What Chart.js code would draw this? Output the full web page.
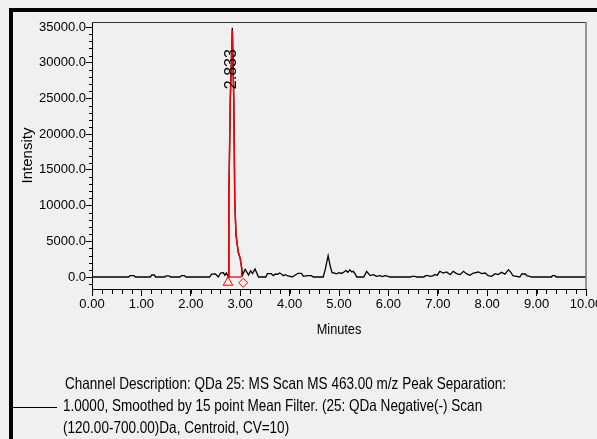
<!DOCTYPE html>
<html>
<head>
<meta charset="utf-8">
<script src="https://cdn.jsdelivr.net/npm/chart.js@4.4.1/dist/chart.umd.min.js"></script>
<style>
  html, body { margin: 0; padding: 0; background: #f0f0f0; }
  canvas { display: block; }
</style>
</head>
<body>
<canvas id="chromChart" width="597" height="439"></canvas>
<script>
// full trace (black)
const times = [
  0.00, 0.74, 0.77, 0.85, 0.88, 1.18, 1.21, 1.26, 1.29, 1.47, 1.50, 1.56, 1.59,
  1.78, 1.81, 1.87, 1.90, 2.38, 2.42, 2.50, 2.53, 2.56, 2.60, 2.66, 2.69, 2.72,
  2.75, 2.76, 2.77, 2.80, 2.84, 2.87, 2.89, 2.915, 2.96, 3.00, 3.03, 3.05, 3.10,
  3.17, 3.21, 3.25, 3.30, 3.37, 3.52, 3.55, 3.63, 3.67, 3.71, 3.76, 3.80, 3.84,
  3.87, 3.92, 3.96, 4.00, 4.05, 4.17, 4.24, 4.28, 4.37, 4.44, 4.48, 4.68, 4.72,
  4.78, 4.82, 4.86, 4.90, 4.95, 5.00, 5.05, 5.10, 5.14, 5.18, 5.22, 5.26, 5.29,
  5.33, 5.36, 5.50, 5.56, 5.63, 5.70, 5.76, 5.83, 5.88, 5.93, 5.98, 6.03, 6.45,
  6.48, 6.54, 6.57, 6.72, 6.75, 6.80, 6.85, 6.90, 6.94, 6.99, 7.04, 7.11, 7.18,
  7.25, 7.31, 7.38, 7.45, 7.52, 7.58, 7.65, 7.72, 7.82, 7.89, 7.96, 8.02, 8.09,
  8.16, 8.22, 8.29, 8.36, 8.43, 8.48, 8.52, 8.59, 8.66, 8.70, 8.77, 8.80, 8.86,
  8.90, 9.30, 9.32, 9.37, 9.40, 10.00
];
const intensity = [
  0, 0, 180, 180, 0, 0, 280, 280, 0, 0, 150, 150, 0,
  0, 190, 190, 0, 0, 400, 420, 200, 0, 550, 600, 250, 550,
  200, 0, 11000, 25000, 34900, 24800, 10800, 5900, 3500, 2600, 1260, 300, 1080,
  280, 880, 500, 1120, 0, 0, 460, 460, 180, 420, 380, 560, 400,
  180, 330, 150, 120, 0, 520, 520, 100, 190, 190, 0, 0, 1000,
  2980, 1600, 600, 560, 450, 600, 500, 700, 900, 650, 1000, 700, 800,
  400, 0, 0, 790, 200, 330, 100, 200, 50, 180, 120, 0, 0,
  100, 100, 0, 0, 180, 180, 100, 150, 330, 250, 800, 560, 700,
  330, 800, 470, 330, 800, 470, 230, 560, 700, 470, 560, 180, 90,
  470, 330, 650, 400, 1030, 650, 180, 100, 0, 420, 420, 180, 100,
  0, 0, 180, 180, 0, 0
];

// integrated peak (red)
const peakTimes = [2.76, 2.77, 2.80, 2.84, 2.87, 2.89, 2.915, 2.96, 3.00, 3.03, 3.03];
const peakIntensity = [0, 11000, 25000, 34500, 24800, 10800, 5900, 3500, 2600, 1260, 0];
const baselineTimes = [2.76, 3.03];
const baselineIntensity = [0, 0];
const markerTimes = [2.753, 3.06];
const markerIntensity = [-770, -810];

const peakLabel = '2.833';
const peakLabelTime = 2.835;
const peakLabelIntensity = 29100;

const xTickValues = [0, 1, 2, 3, 4, 5, 6, 7, 8, 9, 10];
const xTickLabels = ['0.00', '1.00', '2.00', '3.00', '4.00', '5.00', '6.00', '7.00', '8.00', '9.00', '10.00'];
const yTickValues = [0, 5000, 10000, 15000, 20000, 25000, 30000, 35000];
const yTickLabels = ['0.0', '5000.0', '10000.0', '15000.0', '20000.0', '25000.0', '30000.0', '35000.0'];

const xTitle = 'Minutes';
const yTitle = 'Intensity';
const channelLines = [
  'Channel Description: QDa 25: MS Scan MS 463.00 m/z Peak Separation:',
  '1.0000, Smoothed by 15 point Mean Filter. (25: QDa Negative(-) Scan',
  '(120.00-700.00)Da, Centroid, CV=10)'
];

function toPoints(xs, ys) {
  return xs.map((x, i) => ({ x: x, y: ys[i] }));
}

// draws text squeezed to a given width (the original font is narrow)
function squeezeText(ctx, text, x, y, sx) {
  ctx.save();
  ctx.translate(x, y);
  ctx.scale(sx, 1);
  ctx.fillText(text, 0, 0);
  ctx.restore();
}

const decorations = {
  id: 'decorations',
  beforeDraw(chart) {
    const ctx = chart.ctx;
    ctx.save();
    ctx.fillStyle = '#f0f0f0';
    ctx.fillRect(0, 0, chart.width, chart.height);
    ctx.restore();
  },
  afterDraw(chart) {
    const ctx = chart.ctx;
    const area = chart.chartArea;
    const xs = chart.scales.x;
    const ys = chart.scales.y;
    ctx.save();

    // frame top and right
    ctx.strokeStyle = '#333';
    ctx.lineWidth = 1;
    ctx.beginPath();
    ctx.moveTo(area.left, area.top + 0.5);
    ctx.lineTo(area.right, area.top + 0.5);
    ctx.stroke();
    ctx.strokeStyle = '#777';
    ctx.lineWidth = 1.5;
    ctx.beginPath();
    ctx.moveTo(area.right, area.top);
    ctx.lineTo(area.right, area.bottom);
    ctx.stroke();

    // minor ticks
    ctx.strokeStyle = '#000';
    ctx.lineWidth = 1;
    ctx.beginPath();
    for (let v = 0.2; v < 10; v += 0.2) {
      const px = Math.round(xs.getPixelForValue(v)) + 0.5;
      ctx.moveTo(px, area.bottom);
      ctx.lineTo(px, area.bottom + 5);
    }
    for (let v = -1000; v <= 35000; v += 1000) {
      if (v % 5000 === 0) continue;
      const py = Math.round(ys.getPixelForValue(v)) + 0.5;
      ctx.moveTo(area.left - 3, py);
      ctx.lineTo(area.left, py);
    }
    ctx.stroke();

    ctx.fillStyle = '#000';

    // axis titles
    ctx.font = '15px "Liberation Sans", Arial, sans-serif';
    ctx.textAlign = 'center';
    ctx.textBaseline = 'alphabetic';
    squeezeText(ctx, xTitle, (area.left + area.right) / 2, 334, 0.85);
    ctx.save();
    ctx.translate(32, (area.top + area.bottom) / 2);
    ctx.rotate(-Math.PI / 2);
    ctx.fillText(yTitle, 0, 0);
    ctx.restore();

    // peak label
    ctx.save();
    ctx.font = '16px "Liberation Sans", Arial, sans-serif';
    ctx.translate(xs.getPixelForValue(peakLabelTime), ys.getPixelForValue(peakLabelIntensity));
    ctx.rotate(-Math.PI / 2);
    ctx.textAlign = 'center';
    ctx.textBaseline = 'middle';
    ctx.fillText(peakLabel, 0, 0);
    ctx.restore();

    // channel description
    ctx.font = '16.5px "Liberation Sans", Arial, sans-serif';
    ctx.textAlign = 'left';
    const sx = 441 / ctx.measureText(channelLines[0]).width;
    squeezeText(ctx, channelLines[0], 65, 389, sx);
    squeezeText(ctx, channelLines[1], 63, 411, sx);
    squeezeText(ctx, channelLines[2], 63, 433, sx);
    ctx.beginPath();
    ctx.moveTo(10, 407.5);
    ctx.lineTo(57, 407.5);
    ctx.stroke();

    // outer black border
    ctx.fillRect(9, 8, chart.width - 9, 4);
    ctx.fillRect(9, 8, 4, chart.height - 8);
    ctx.restore();
  }
};

const tickFont = { family: '"Liberation Sans", Arial, sans-serif', size: 13 };

new Chart(document.getElementById('chromChart'), {
  type: 'line',
  data: {
    datasets: [
      {
        data: toPoints(markerTimes, markerIntensity),
        showLine: false,
        pointStyle: ['triangle', 'rectRot'],
        pointRadius: [5.5, 4.5],
        pointBorderColor: '#ff0000',
        pointBackgroundColor: 'rgba(0,0,0,0)',
        pointBorderWidth: 1
      },
      {
        data: toPoints(baselineTimes, baselineIntensity),
        borderColor: '#ff0000',
        borderWidth: 1.3,
        pointRadius: 0,
        tension: 0
      },
      {
        data: toPoints(peakTimes, peakIntensity),
        borderColor: '#ff0000',
        borderWidth: 1.5,
        pointRadius: 0,
        tension: 0
      },
      {
        data: toPoints(times, intensity),
        borderColor: '#000000',
        borderWidth: 1.3,
        pointRadius: 0,
        tension: 0
      }
    ]
  },
  options: {
    responsive: false,
    animation: false,
    layout: { padding: { left: 0, top: 22, right: 11, bottom: 100 } },
    plugins: {
      legend: { display: false },
      tooltip: { enabled: false }
    },
    scales: {
      x: {
        type: 'linear',
        min: 0,
        max: 10,
        afterBuildTicks: s => { s.ticks = xTickValues.map(v => ({ value: v })); },
        afterFit: s => { s.height = 50; s.paddingLeft = 0; s.paddingRight = 0; },
        ticks: {
          autoSkip: false,
          maxRotation: 0,
          minRotation: 0,
          padding: 1,
          color: '#000',
          font: tickFont,
          callback: (v, i) => xTickLabels[i]
        },
        grid: { drawOnChartArea: false, drawTicks: true, tickLength: 7, color: '#000' },
        border: { display: true, color: '#000', width: 1 }
      },
      y: {
        type: 'linear',
        min: -1680,
        max: 35700,
        afterBuildTicks: s => { s.ticks = yTickValues.map(v => ({ value: v })); },
        afterFit: s => { s.width = 92; s.paddingTop = 0; s.paddingBottom = 0; },
        ticks: {
          padding: 0,
          color: '#000',
          font: tickFont,
          callback: (v, i) => yTickLabels[i]
        },
        grid: { drawOnChartArea: false, drawTicks: true, tickLength: 6, color: '#000' },
        border: { display: true, color: '#000', width: 1 }
      }
    }
  },
  plugins: [decorations]
});
</script>
</body>
</html>
